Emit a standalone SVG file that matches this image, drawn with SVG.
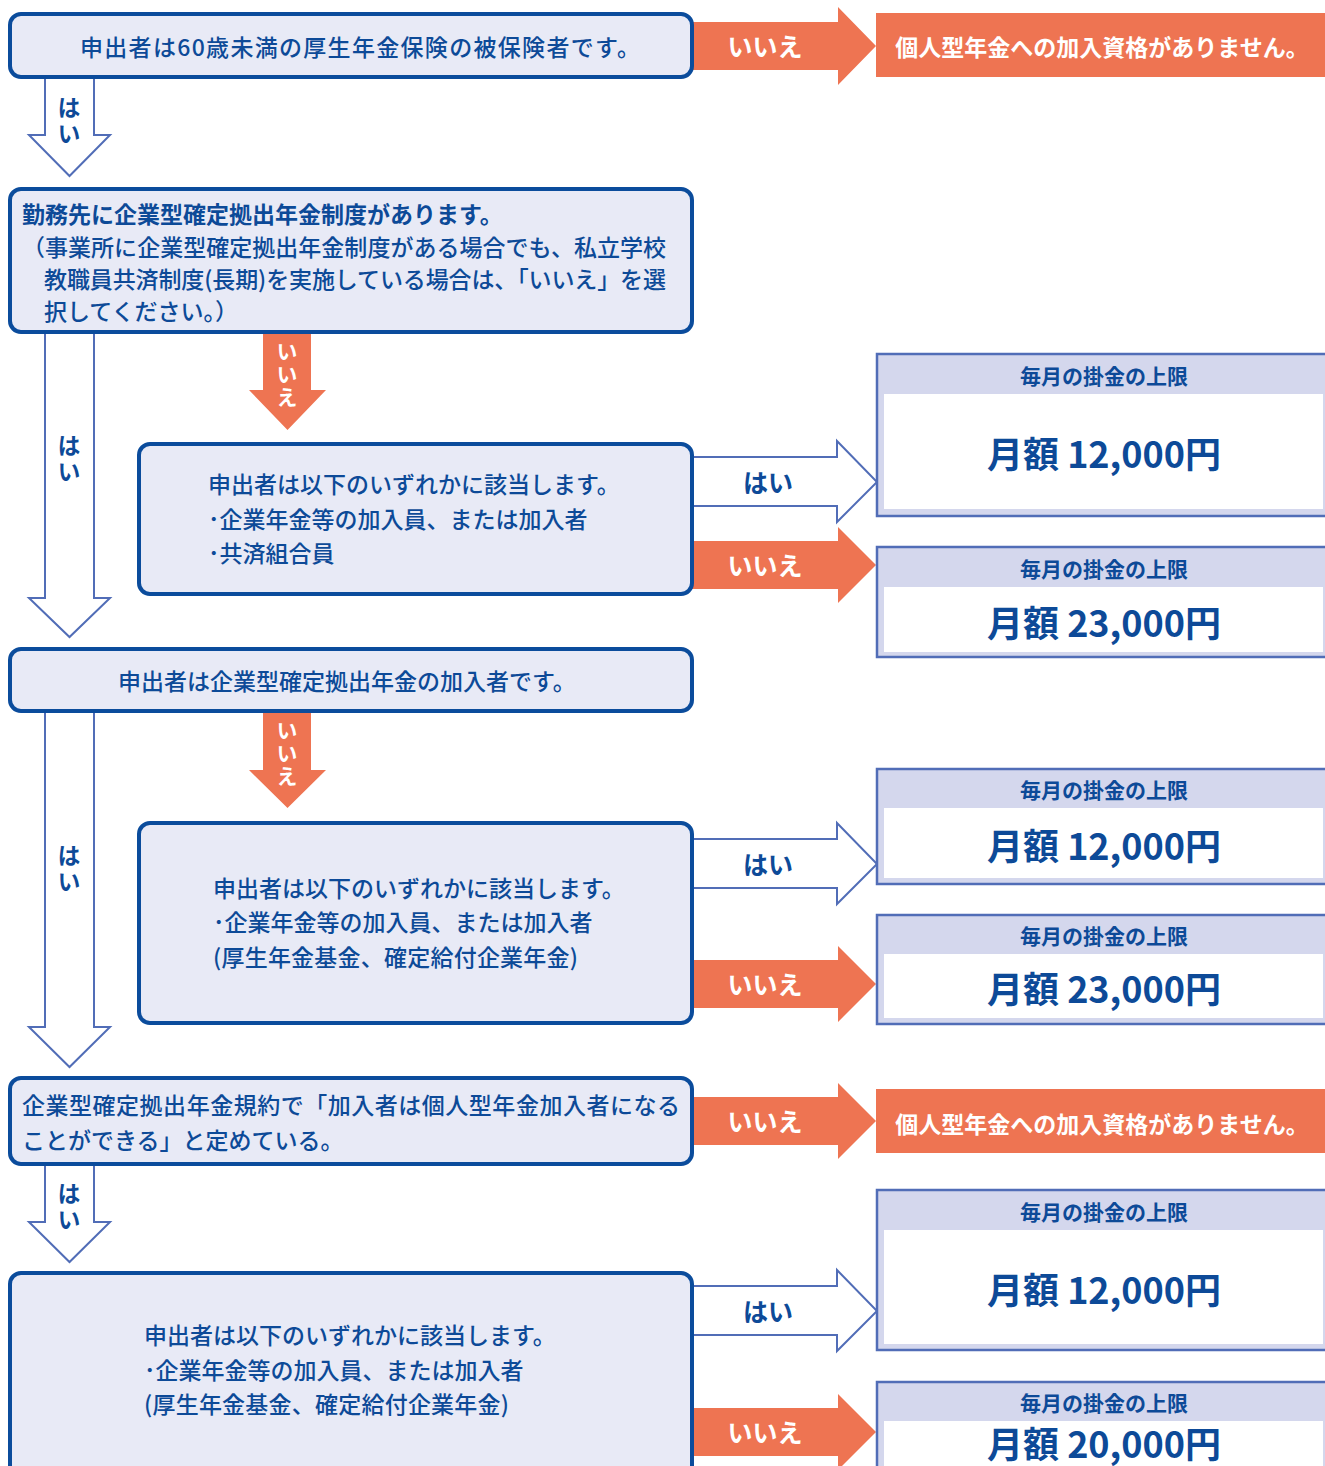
<svg xmlns="http://www.w3.org/2000/svg" width="1325" height="1466" viewBox="0 0 1325 1466">
<defs>
<style>
.box{fill:#e8eaf6;stroke:#0b4c9c;stroke-width:4}
.hollow{fill:#ffffff;stroke:#516db7;stroke-width:2;stroke-linejoin:miter}
.orange{fill:#ee7452}
.t{font-family:"Noto Sans CJK JP","Noto Sans",sans-serif;font-size:23px;font-weight:500;fill:#0d4a98;dominant-baseline:central}
.tb{font-weight:700}
.lab{font-family:"Noto Sans CJK JP","Noto Sans",sans-serif;font-size:25px;font-weight:700;fill:#0d4a98;text-anchor:middle;dominant-baseline:central}
.labw{fill:#ffffff}
.vl{font-family:"Noto Sans CJK JP","Noto Sans",sans-serif;font-size:23px;font-weight:700;fill:#0d4a98;writing-mode:vertical-rl;text-anchor:start;letter-spacing:3px}
.vlo{font-family:"Noto Sans CJK JP","Noto Sans",sans-serif;font-size:21px;font-weight:700;fill:#ffffff;writing-mode:vertical-rl;text-anchor:start;letter-spacing:2px}
.rout{fill:#d4d7ed;stroke:#516db7;stroke-width:2.5}
.rin{fill:#ffffff}
.rh{font-family:"Noto Sans CJK JP","Noto Sans",sans-serif;font-size:21px;font-weight:700;fill:#0d4a98;text-anchor:middle;dominant-baseline:central}
.rv{font-family:"Noto Sans CJK JP","Noto Sans",sans-serif;font-size:36px;font-weight:700;fill:#0d4a98;text-anchor:middle;dominant-baseline:central}
.ng{fill:#ee7452}
.ngt{font-family:"Noto Sans CJK JP","Noto Sans",sans-serif;font-size:23px;font-weight:700;fill:#ffffff;text-anchor:middle;dominant-baseline:central}
</style>
</defs>
<rect width="1325" height="1466" fill="#ffffff"/>

<g id="connectors">
  <path class="hollow" d="M45,76 V135 H29 L69.5,176 L110,135 H94 V76"/>
  <path class="hollow" d="M45,331 V598 H29 L69.5,637 L110,598 H94 V331"/>
  <path class="hollow" d="M45,710 V1027 H29 L69.5,1067 L110,1027 H94 V710"/>
  <path class="hollow" d="M45,1162 V1222 H29 L69.5,1262 L110,1222 H94 V1162"/>
  <text class="vl" x="69" y="96">はい</text>
  <text class="vl" x="69" y="434">はい</text>
  <text class="vl" x="69" y="844">はい</text>
  <text class="vl" x="69" y="1182">はい</text>

  <path class="orange" d="M263,331 V390 H249 L287.5,430 L326,390 H311 V331 Z"/>
  <path class="orange" d="M263,710 V770 H249 L287.5,808 L326,770 H311 V710 Z"/>
  <text class="vlo" x="287" y="341">いいえ</text>
  <text class="vlo" x="287" y="720">いいえ</text>

  <path class="orange" d="M690,22 H838 V7 L876,46 L838,85 V70 H690 Z"/>
  <path class="orange" d="M690,541 H838 V527 L876,565 L838,603 V589 H690 Z"/>
  <path class="orange" d="M690,960 H838 V946 L876,984 L838,1022 V1008 H690 Z"/>
  <path class="orange" d="M690,1097 H838 V1083 L876,1121 L838,1159 V1145 H690 Z"/>
  <path class="orange" d="M690,1408 H838 V1394 L876,1432 L838,1470 V1456 H690 Z"/>
  <text class="lab labw" x="765" y="45">いいえ</text>
  <text class="lab labw" x="765" y="564">いいえ</text>
  <text class="lab labw" x="765" y="983">いいえ</text>
  <text class="lab labw" x="765" y="1120">いいえ</text>
  <text class="lab labw" x="765" y="1431">いいえ</text>

  <path class="hollow" d="M692,457 H837 V441 L877,482 L837,522 V506 H692"/>
  <path class="hollow" d="M692,839 H837 V823 L877,864 L837,904 V888 H692"/>
  <path class="hollow" d="M692,1286 H837 V1270 L877,1311 L837,1351 V1335 H692"/>
  <text class="lab" x="768" y="481">はい</text>
  <text class="lab" x="768" y="863">はい</text>
  <text class="lab" x="768" y="1310">はい</text>
</g>

<g id="q1">
  <rect class="box" x="10" y="14" width="682" height="63" rx="11"/>
  <text class="t" x="80" y="46" textLength="560">申出者は60歳未満の厚生年金保険の被保険者です。</text>
</g>
<g id="ng1">
  <rect class="ng" x="876" y="13" width="449" height="64"/>
  <text class="ngt" x="1102" y="46">個人型年金への加入資格がありません。</text>
</g>

<g id="q2">
  <rect class="box" x="10" y="189" width="682" height="143" rx="11"/>
  <text class="t tb" x="22" y="213">勤務先に企業型確定拠出年金制度があります。</text>
  <text class="t" x="22" y="246" textLength="644">（事業所に企業型確定拠出年金制度がある場合でも、私立学校</text>
  <text class="t" x="44" y="278" textLength="622">教職員共済制度(長期)を実施している場合は、「いいえ」を選</text>
  <text class="t" x="44" y="310">択してください。）</text>
</g>

<g id="q3">
  <rect class="box" x="139" y="444" width="553" height="150" rx="11"/>
  <text class="t" x="208" y="483">申出者は以下のいずれかに該当します。</text>
  <text class="t" x="208" y="518">･企業年金等の加入員、または加入者</text>
  <text class="t" x="208" y="552">･共済組合員</text>
</g>

<g id="rA">
  <rect class="rout" x="877" y="354" width="460" height="162"/>
  <rect class="rin" x="884" y="394" width="439" height="115"/>
  <text class="rh" x="1104" y="375">毎月の掛金の上限</text>
  <text class="rv" x="1104" y="452">月額 12,000円</text>
</g>
<g id="rB">
  <rect class="rout" x="877" y="547" width="460" height="110"/>
  <rect class="rin" x="884" y="587" width="439" height="65"/>
  <text class="rh" x="1104" y="568">毎月の掛金の上限</text>
  <text class="rv" x="1104" y="621">月額 23,000円</text>
</g>

<g id="q4">
  <rect class="box" x="10" y="649" width="682" height="62" rx="11"/>
  <text class="t" x="118" y="680">申出者は企業型確定拠出年金の加入者です。</text>
</g>

<g id="q5">
  <rect class="box" x="139" y="823" width="553" height="200" rx="11"/>
  <text class="t" x="213" y="887">申出者は以下のいずれかに該当します。</text>
  <text class="t" x="213" y="921">･企業年金等の加入員、または加入者</text>
  <text class="t" x="213" y="956" textLength="365">(厚生年金基金、確定給付企業年金)</text>
</g>

<g id="rC">
  <rect class="rout" x="877" y="769" width="460" height="115"/>
  <rect class="rin" x="884" y="808" width="439" height="70"/>
  <text class="rh" x="1104" y="789">毎月の掛金の上限</text>
  <text class="rv" x="1104" y="844">月額 12,000円</text>
</g>
<g id="rD">
  <rect class="rout" x="877" y="915" width="460" height="109"/>
  <rect class="rin" x="884" y="954" width="439" height="64"/>
  <text class="rh" x="1104" y="935">毎月の掛金の上限</text>
  <text class="rv" x="1104" y="987">月額 23,000円</text>
</g>

<g id="q6">
  <rect class="box" x="10" y="1078" width="682" height="86" rx="11"/>
  <text class="t" x="22" y="1104" textLength="658">企業型確定拠出年金規約で「加入者は個人型年金加入者になる</text>
  <text class="t" x="22" y="1139">ことができる」と定めている。</text>
</g>
<g id="ng2">
  <rect class="ng" x="876" y="1089" width="449" height="64"/>
  <text class="ngt" x="1102" y="1123">個人型年金への加入資格がありません。</text>
</g>

<g id="q7">
  <rect class="box" x="10" y="1273" width="682" height="220" rx="11"/>
  <text class="t" x="144" y="1334">申出者は以下のいずれかに該当します。</text>
  <text class="t" x="144" y="1369">･企業年金等の加入員、または加入者</text>
  <text class="t" x="144" y="1403" textLength="365">(厚生年金基金、確定給付企業年金)</text>
</g>

<g id="rE">
  <rect class="rout" x="877" y="1190" width="460" height="160"/>
  <rect class="rin" x="884" y="1230" width="439" height="114"/>
  <text class="rh" x="1104" y="1211">毎月の掛金の上限</text>
  <text class="rv" x="1104" y="1288">月額 12,000円</text>
</g>
<g id="rF">
  <rect class="rout" x="877" y="1382" width="460" height="120"/>
  <rect class="rin" x="884" y="1421" width="439" height="70"/>
  <text class="rh" x="1104" y="1402">毎月の掛金の上限</text>
  <text class="rv" x="1104" y="1442">月額 20,000円</text>
</g>
</svg>
